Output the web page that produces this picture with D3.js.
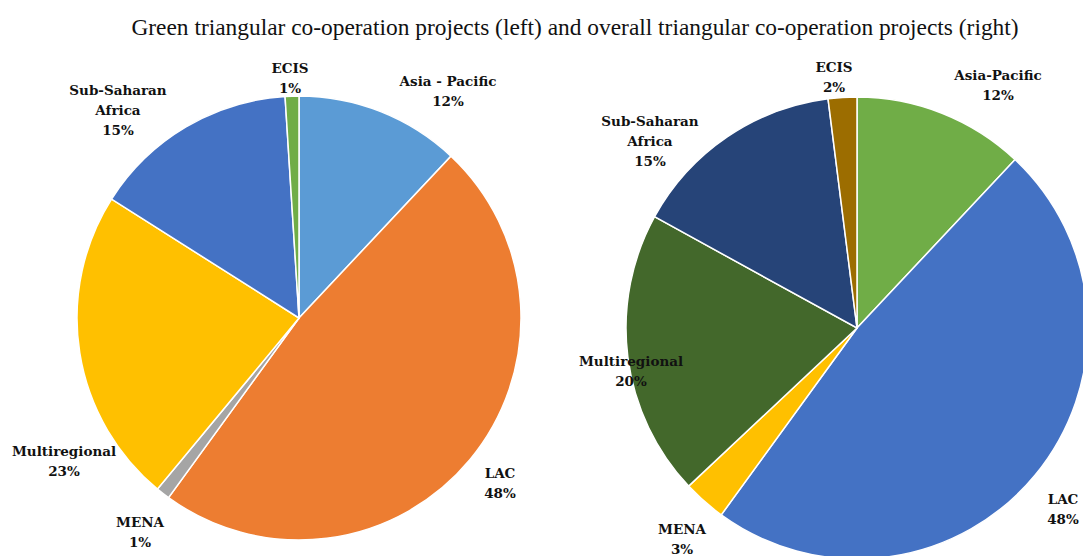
<!DOCTYPE html>
<html>
<head>
<meta charset="utf-8">
<script src="https://d3js.org/d3.v7.min.js"></script>
<style>
  body { margin: 0; background: #fff; }
  .lbl { font-family: 'DejaVu Serif', 'Liberation Serif', serif; font-weight: bold; font-size: 13.5px; fill: #111; }
  .ttl { font-family: 'Liberation Serif', 'Times New Roman', Times, 'DejaVu Serif', serif; font-size: 23.4px; fill: #111; }
</style>
</head>
<body>
<svg id="chart" width="1083" height="556"></svg>
<script>
// regions, clockwise from 12 o'clock
var regions = ['Asia - Pacific', 'LAC', 'MENA', 'Multiregional', 'Sub-Saharan Africa', 'ECIS'];
var regionsRight = ['Asia-Pacific', 'LAC', 'MENA', 'Multiregional', 'Sub-Saharan Africa', 'ECIS'];
var greenShare = [12, 48, 1, 23, 15, 1];
var overallShare = [12, 48, 3, 20, 15, 2];
var greenColours = ['#5b9bd5', '#ed7d31', '#a5a5a5', '#ffc000', '#4472c4', '#70ad47'];
var overallColours = ['#70ad47', '#4472c4', '#ffc000', '#43682b', '#264478', '#9c6d00'];

var svg = d3.select('#chart');

svg.append('text')
  .attr('class', 'ttl')
  .attr('x', 575)
  .attr('y', 35)
  .attr('text-anchor', 'middle')
  .text('Green triangular co-operation projects (left) and overall triangular co-operation projects (right)');

// label spots (x, first line y) per slice
var leftLabelPos = [[448, 86], [500, 478], [140, 527], [64, 456], [118, 95], [290, 73]];
var rightLabelPos = [[998, 80], [1063, 504], [682, 534], [631, 366], [650, 126], [834, 72]];

function drawPie(names, values, colours, cx, cy, r, labelPos) {
  var pie = d3.pie().sort(null).value(function(d) { return d; });
  var arc = d3.arc().innerRadius(0).outerRadius(r);
  var g = svg.append('g').attr('transform', 'translate(' + cx + ',' + cy + ')');

  g.selectAll('path')
    .data(pie(values))
    .enter()
    .append('path')
      .attr('d', arc)
      .attr('fill', function(d, i) { return colours[i]; })
      .attr('stroke', '#fff')
      .attr('stroke-width', 1.5);

  names.forEach(function(name, i) {
    var lines = name === 'Sub-Saharan Africa' ? ['Sub-Saharan', 'Africa'] : [name];
    lines.push(values[i] + '%');
    var t = svg.append('text')
      .attr('class', 'lbl')
      .attr('text-anchor', 'middle')
      .attr('x', labelPos[i][0])
      .attr('y', labelPos[i][1]);
    lines.forEach(function(line, j) {
      t.append('tspan')
        .attr('x', labelPos[i][0])
        .attr('dy', j === 0 ? 0 : 20)
        .text(line);
    });
  });
}

drawPie(regions, greenShare, greenColours, 299, 318, 222, leftLabelPos);
drawPie(regionsRight, overallShare, overallColours, 857, 328, 231, rightLabelPos);
</script>
</body>
</html>
